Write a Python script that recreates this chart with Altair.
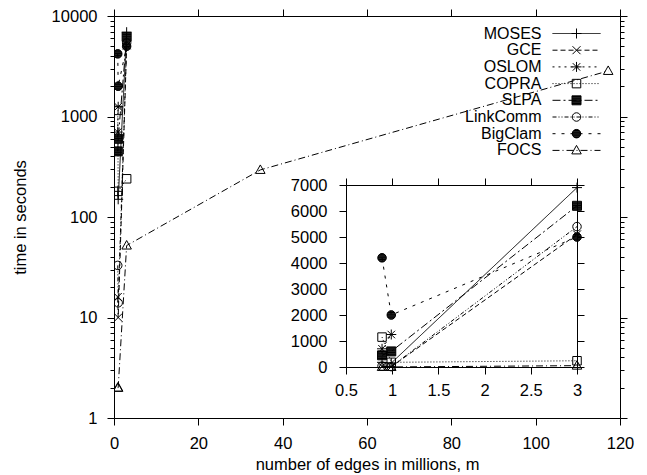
import math
import altair as alt
import pandas as pd

FONT = "Liberation Sans"

# ---------------- data ----------------
METHODS = ["MOSES", "GCE", "OSLOM", "COPRA", "SLPA", "LinkComm", "BigClam", "FOCS"]

EDGES = [0.89, 0.99, 3.0]                       # millions of edges
FOCS_EDGES = [0.89, 0.99, 3.0, 34.7, 117.2]
OSLOM_EDGES = [0.89, 0.99]

MOSES = [180, 150, 6900]
GCE = [16, 10, 5100]
OSLOM = [700, 1250]
COPRA = [1150, 180, 240]
SLPA = [450, 600, 6200]
LINKCOMM = [33, 14, 5400]
BIGCLAM = [4200, 2000, 5000]
FOCS = [2, 2, 52, 294, 2840]

MAIN_X_TICKS = [0, 20, 40, 60, 80, 100, 120]
MAIN_Y_TICKS = [1, 10, 100, 1000, 10000]
MAIN_Y_MINOR = [m * 10 ** e for e in range(4) for m in range(2, 10)]
INSET_X_TICKS = [0.5, 1, 1.5, 2, 2.5, 3]
INSET_Y_TICKS = [0, 1000, 2000, 3000, 4000, 5000, 6000, 7000]

series = {
    "MOSES": (EDGES, MOSES),
    "GCE": (EDGES, GCE),
    "OSLOM": (OSLOM_EDGES, OSLOM),
    "COPRA": (EDGES, COPRA),
    "SLPA": (EDGES, SLPA),
    "LinkComm": (EDGES, LINKCOMM),
    "BigClam": (EDGES, BIGCLAM),
    "FOCS": (FOCS_EDGES, FOCS),
}
rows = []
for m, (xs, ys) in series.items():
    for x, y in zip(xs, ys):
        rows.append({"method": m, "edges": x, "time": y})
df = pd.DataFrame(rows)

# ---------------- marker shapes (stroked; "filled" ones are densely hatched) ----------------
def _circle(r):
    return f"M{r},0A{r},{r},0,1,1,{-r},0A{r},{r},0,1,1,{r},0Z"

def _filled_square(r, step=0.14):
    p = f"M{-r},{-r}L{r},{-r}L{r},{r}L{-r},{r}Z"
    y = -r + step
    while y < r:
        p += f"M{-r},{y:.3f}L{r},{y:.3f}"
        y += step
    return p

def _filled_circle(r, step=0.14):
    p = _circle(r)
    y = -r + step / 2
    while y < r:
        x = math.sqrt(max(r * r - y * y, 0))
        p += f"M{-x:.3f},{y:.3f}L{x:.3f},{y:.3f}"
        y += step
    return p

DASHES = [[1, 0], [5, 3], [2, 4], [1, 2], [8, 3, 2, 3], [4, 2, 1, 2, 1, 2], [3, 6], [7, 3, 1, 3]]
SHAPES = [
    "M-1,0L1,0M0,-1L0,1",
    "M-0.8,-0.8L0.8,0.8M-0.8,0.8L0.8,-0.8",
    "M-1,0L1,0M0,-1L0,1M-0.75,-0.75L0.75,0.75M-0.75,0.75L0.75,-0.75",
    "M-0.85,-0.85L0.85,-0.85L0.85,0.85L-0.85,0.85Z",
    _filled_square(0.9),
    _circle(0.85),
    _filled_circle(0.85),
    "M0,-1L0.95,0.7L-0.95,0.7Z",
]

W, H = 506, 402
FS = 16.5
LEG_FS = 16

LEG_X, LEG_Y = 411.5, 9.5
leg_common = dict(
    title=None, orient="none", legendX=LEG_X, legendY=LEG_Y,
    symbolSize=100, symbolStrokeColor="black", symbolStrokeWidth=1, symbolOffset=43,
    labelAlign="right", labelOffset={"expr": "-43"}, labelFont=FONT, labelFontSize=LEG_FS,
    labelColor="black", rowPadding=0.7, padding=0, labelLimit=300,
)

xs_main = alt.Scale(domain=[0, 120], nice=False, zero=False)
ys_main = alt.Scale(type="log", domain=[1, 10000], nice=False)

main_lines = alt.Chart(df).mark_line(strokeWidth=1, color="black", clip=True).encode(
    x=alt.X("edges:Q", scale=xs_main,
            axis=alt.Axis(orient="bottom", values=MAIN_X_TICKS, format="d", tickSize=7,
                          labelPadding=10, title="number of edges in millions, m", titlePadding=5)),
    y=alt.Y("time:Q", scale=ys_main,
            axis=alt.Axis(orient="left", values=MAIN_Y_TICKS, format="d", tickSize=7,
                          labelPadding=10, title="time in seconds", titlePadding=23)),
    strokeDash=alt.StrokeDash("method:N", sort=METHODS, scale=alt.Scale(range=DASHES),
                              legend=alt.Legend(symbolType="M-4.8,0L4.8,0", **leg_common)),
)

main_points = alt.Chart(df).mark_point(size=100, strokeWidth=1, color="black", opacity=1,
                                       clip=True).encode(
    x=alt.X("edges:Q", scale=xs_main,
            axis=alt.Axis(orient="top", values=MAIN_X_TICKS, labels=False, tickSize=7, title=None)),
    y=alt.Y("time:Q", scale=ys_main,
            axis=alt.Axis(orient="right", values=MAIN_Y_TICKS, labels=False, tickSize=7, title=None)),
    shape=alt.Shape("method:N", scale=alt.Scale(domain=METHODS, range=SHAPES),
                    legend=alt.Legend(labelOpacity=0, symbolOpacity=1, **leg_common)),
)

minor_left = alt.Chart(df).mark_point(opacity=0).encode(
    x=alt.X("edges:Q", scale=xs_main, axis=None),
    y=alt.Y("time:Q", scale=ys_main,
            axis=alt.Axis(orient="left", values=MAIN_Y_MINOR, labels=False, tickSize=4,
                          domain=False, title=None)),
)
minor_right = alt.Chart(df).mark_point(opacity=0).encode(
    x=alt.X("edges:Q", scale=xs_main, axis=None),
    y=alt.Y("time:Q", scale=ys_main,
            axis=alt.Axis(orient="right", values=MAIN_Y_MINOR, labels=False, tickSize=4,
                          domain=False, title=None)),
)

main = alt.layer(main_lines, main_points, minor_left, minor_right).resolve_axis(
    x="independent", y="independent")

# ---------------- inset (linear scales, placed inside the plot) ----------------
IN_X0, IN_X1 = 232, 463
IN_Y0, IN_Y1 = 351, 169
xs_in = alt.Scale(domain=[0.5, 3], range=[IN_X0, IN_X1], nice=False, zero=False)
ys_in = alt.Scale(domain=[0, 7000], range=[IN_Y0, IN_Y1], nice=False, zero=False)

inset_lines = alt.Chart(df).transform_filter("datum.edges <= 3").mark_line(
    strokeWidth=1, color="black").encode(
    x=alt.X("edges:Q", scale=xs_in,
            axis=alt.Axis(orient="bottom", offset=IN_Y0 - H, values=INSET_X_TICKS, format="~g",
                          tickSize=7, labelPadding=8, title=None)),
    y=alt.Y("time:Q", scale=ys_in,
            axis=alt.Axis(orient="left", offset=-IN_X0, values=INSET_Y_TICKS, format="d",
                          tickSize=7, labelPadding=12, title=None)),
    strokeDash=alt.StrokeDash("method:N", scale=alt.Scale(domain=METHODS, range=DASHES), legend=None),
)
inset_points = alt.Chart(df).transform_filter("datum.edges <= 3").mark_point(
    size=100, strokeWidth=1, color="black", opacity=1).encode(
    x=alt.X("edges:Q", scale=xs_in,
            axis=alt.Axis(orient="top", offset=-IN_Y1, values=INSET_X_TICKS, labels=False,
                          tickSize=7, title=None)),
    y=alt.Y("time:Q", scale=ys_in,
            axis=alt.Axis(orient="right", offset=IN_X1 - W, values=INSET_Y_TICKS, labels=False,
                          tickSize=7, title=None)),
    shape=alt.Shape("method:N", scale=alt.Scale(domain=METHODS, range=SHAPES), legend=None),
)
inset = alt.layer(inset_lines, inset_points).resolve_axis(x="independent", y="independent")

chart = alt.layer(main, inset).resolve_scale(
    x="independent", y="independent", shape="independent", strokeDash="independent"
).resolve_axis(x="independent", y="independent").properties(
    width=W, height=H, autosize="none",
    padding={"left": 106, "top": 8, "right": 19, "bottom": 56},
).configure_view(stroke=None).configure_axis(
    labelFont=FONT, titleFont=FONT, labelFontSize=FS, titleFontSize=FS,
    titleFontWeight="normal", labelColor="black", titleColor="black",
    domainColor="black", tickColor="black", domainWidth=1, tickWidth=1, grid=False,
    labelFlush=False, labelOverlap=False,
)

chart.save("out.html", embed_options={"renderer": "svg", "actions": False})
